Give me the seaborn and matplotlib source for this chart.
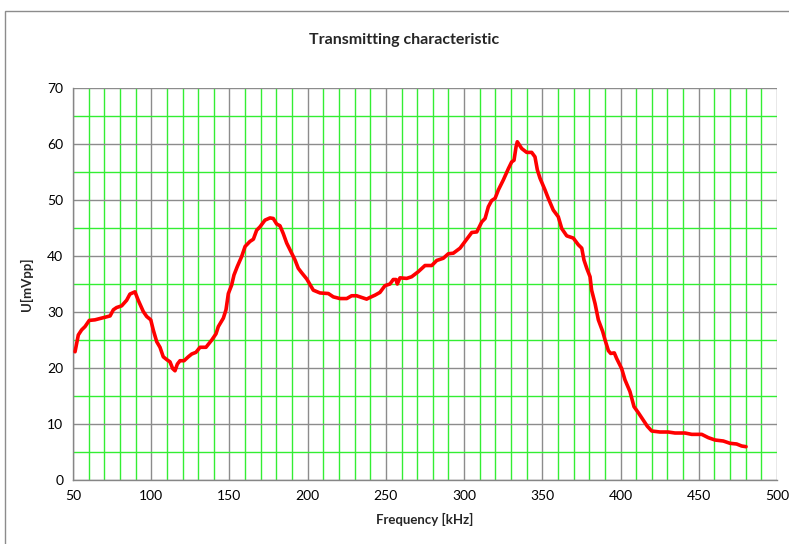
import matplotlib
matplotlib.use("Agg")
import matplotlib.pyplot as plt
import matplotlib.patches as mpatches
from matplotlib.ticker import MultipleLocator
import seaborn as sns
import pandas as pd

freq_khz = [51.3, 53.4, 55.5, 57.7, 60.4, 64.0, 69.4, 73.7, 75.8, 77.9, 81.1, 84.3, 86.4, 89.6,
            91.7, 94.9, 97.1, 99.7, 101.3, 103.5, 105.6, 107.7, 109.9, 112.0, 113.7, 115.2,
            116.7, 118.4, 121.0, 123.7, 125.9, 128.6, 131.2, 135.0, 138.7, 141.4, 142.9, 146.1,
            147.8, 149.3, 151.4, 152.9, 155.0, 157.8, 160.0, 163.1, 165.3, 167.4, 169.5, 172.7,
            175.9, 178.0, 180.2, 182.3, 184.4, 186.6, 189.8, 191.9, 194.0, 196.2, 199.4, 203.6,
            207.9, 213.2, 216.4, 220.7, 225.0, 228.1, 231.3, 234.5, 237.7, 239.8, 243.0, 246.2,
            249.4, 252.6, 254.7, 256.5, 257.3, 259.0, 263.3, 266.5, 270.7, 275.0, 279.3, 282.5,
            286.7, 289.9, 293.1, 297.4, 301.7, 304.9, 308.1, 311.3, 313.4, 315.5, 317.6, 319.8,
            321.9, 325.1, 328.3, 330.4, 331.9, 333.2, 334.0, 336.8, 340.0, 343.2, 345.3, 346.8,
            348.5, 351.7, 353.8, 357.0, 360.2, 362.4, 365.6, 369.8, 373.0, 375.2, 376.6, 378.4,
            380.5, 381.5, 383.7, 385.8, 388.6, 390.1, 392.2, 393.7, 396.0, 397.5, 400.7, 402.8,
            406.0, 408.6, 411.4, 414.5, 417.1, 419.9, 425.2, 430.5, 434.8, 441.2, 445.5, 451.9,
            456.1, 460.4, 465.7, 470.0, 474.2, 477.4, 480.2]
u_mvpp = [22.9, 25.9, 26.8, 27.4, 28.5, 28.6, 29.0, 29.3, 30.4, 30.8, 31.1, 32.1, 33.2, 33.6,
          32.1, 30.1, 29.2, 28.6, 26.8, 24.7, 23.7, 22.0, 21.5, 21.1, 19.9, 19.5,
          20.7, 21.3, 21.3, 22.0, 22.5, 22.8, 23.7, 23.7, 25.0, 26.1, 27.4, 28.9,
          30.4, 33.3, 34.8, 36.6, 38.1, 39.9, 41.7, 42.6, 43.0, 44.6, 45.2, 46.4,
          46.8, 46.7, 45.7, 45.4, 44.0, 42.3, 40.5, 39.3, 37.8, 37.0, 35.9, 33.9,
          33.4, 33.3, 32.7, 32.4, 32.4, 32.9, 32.9, 32.6, 32.3, 32.6, 33.0, 33.5,
          34.7, 35.0, 35.8, 35.8, 35.0, 36.1, 36.0, 36.3, 37.2, 38.3, 38.3, 39.2,
          39.6, 40.4, 40.5, 41.4, 43.0, 44.2, 44.3, 46.1, 46.7, 48.8, 49.9, 50.3,
          51.8, 53.6, 55.6, 56.8, 57.1, 59.5, 60.4, 59.2, 58.5, 58.5, 57.7, 55.4,
          53.9, 51.8, 50.3, 48.2, 47.0, 44.9, 43.6, 43.2, 42.0, 41.4, 39.3, 37.8,
          36.3, 33.9, 31.5, 28.6, 26.5, 25.0, 23.1, 22.6, 22.7, 21.7, 19.9, 17.9,
          15.8, 13.1, 12.0, 10.7, 9.6, 8.75, 8.57, 8.57, 8.39, 8.39, 8.15, 8.15,
          7.56, 7.14, 6.96, 6.55, 6.43, 6.07, 5.95]

title = "Transmitting characteristic"
x_label = "Frequency [kHz]"
y_label = "U[mVpp]"

sns.set_style("white")
plt.rcParams['font.family'] = ['Lato', 'DejaVu Sans']

fig = plt.figure(figsize=(7.89, 5.44), dpi=100)
ax = fig.add_axes([73/789, 1 - 480/544, (777 - 73)/789, (480 - 88)/544])

df = pd.DataFrame({"f": freq_khz, "u": u_mvpp})
sns.lineplot(data=df, x="f", y="u", sort=False, color="#ff0000", linewidth=2.6, ax=ax, zorder=5)

ax.set_xlim(50, 500)
ax.set_ylim(0, 70)
ax.xaxis.set_major_locator(MultipleLocator(50))
ax.xaxis.set_minor_locator(MultipleLocator(10))
ax.yaxis.set_major_locator(MultipleLocator(10))
ax.yaxis.set_minor_locator(MultipleLocator(5))
ax.grid(which="minor", color="#33ee33", linewidth=1.0, zorder=1)
ax.grid(which="major", color="#8c8c8c", linewidth=1.0, zorder=2)
ax.set_axisbelow(True)

for s in ["top", "right"]:
    ax.spines[s].set_visible(False)
for s in ["left", "bottom"]:
    ax.spines[s].set_color("#868686")
    ax.spines[s].set_linewidth(1.0)

ax.tick_params(axis="both", which="major", direction="out", length=4, width=0.8,
               color="#868686", labelsize=10, labelcolor="black", pad=3)
ax.tick_params(axis="both", which="minor", length=0)

ax.set_xlabel(x_label, fontsize=9.5, fontweight="bold", labelpad=8)
ax.set_ylabel(y_label, fontsize=9.5, fontweight="bold", labelpad=10)
fig.text(404/789, 1 - 40/544, title, ha="center", va="center", fontsize=11.5, fontweight="bold")

border = mpatches.Rectangle((5/789, -0.05), 1.1, 1 - 11/544 + 0.05, transform=fig.transFigure,
                            fill=False, edgecolor="#8c8c8c", linewidth=1.0)
fig.patches.append(border)

fig.savefig("out.png", dpi=100)
